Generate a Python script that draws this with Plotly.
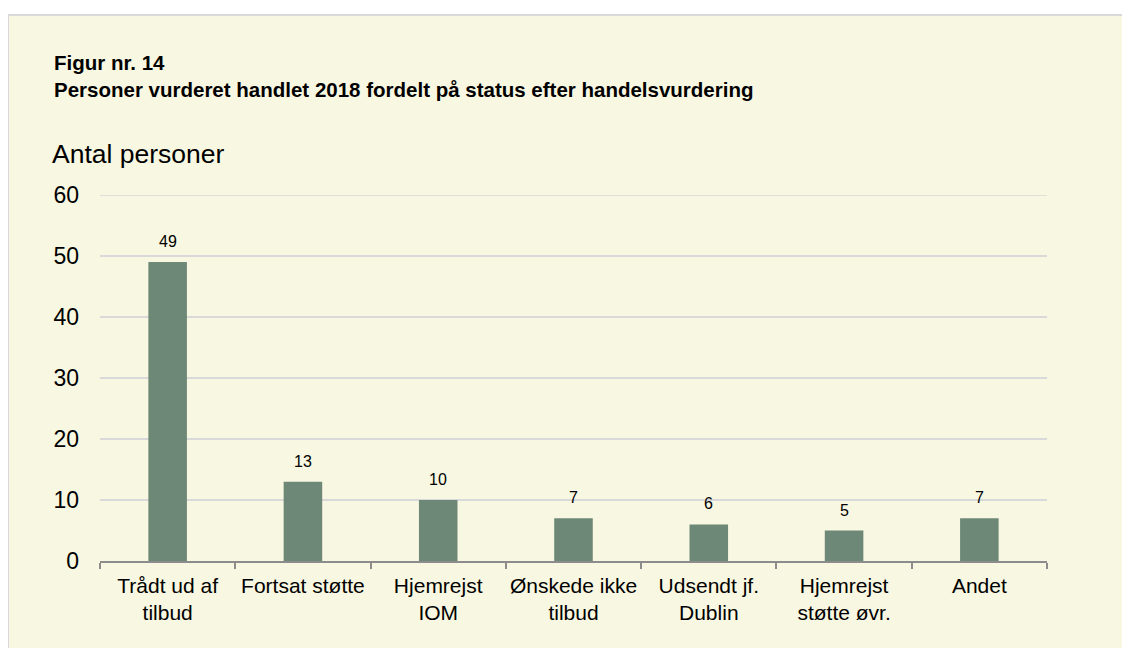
import plotly.graph_objects as go

categories = ["Trådt ud af<br>tilbud", "Fortsat støtte", "Hjemrejst<br>IOM", "Ønskede ikke<br>tilbud",
              "Udsendt jf.<br>Dublin", "Hjemrejst<br>støtte øvr.", "Andet"]
values = [49, 13, 10, 7, 6, 5, 7]
y_ticks = [0, 10, 20, 30, 40, 50, 60]

OFF = 8  # page body margin
W, H = 1122, 640
L, R, T, B = 92, 83, 187, 87
pw, ph = W - L - R, H - T - B

def px_x(p):
    return (p - OFF - L) / pw

def px_y(p):
    return (H - B - (p - OFF)) / ph

FONT = "Liberation Sans, Arial, sans-serif"
fig = go.Figure()
fig.add_trace(go.Bar(x=categories, y=values, marker=dict(color="#6E8877", line=dict(width=0)),
                     width=0.285, hoverinfo="skip"))

# background panel
fig.add_shape(type="rect", xref="paper", yref="paper",
              x0=px_x(8), x1=px_x(1160), y0=px_y(15), y1=px_y(700),
              fillcolor="#F8F7E1", line=dict(color="#D9D9D9", width=2), layer="below")

# top gridline (plotly skips the gridline on the plot edge)
fig.add_shape(type="line", xref="paper", yref="y", x0=0, x1=1, y0=y_ticks[-1], y1=y_ticks[-1],
              line=dict(color="#D9D9D9", width=1.5), layer="below")

for c, v in zip(categories, values):
    fig.add_annotation(x=c, y=v, text=str(v), showarrow=False, yanchor="bottom", yshift=10,
                       font=dict(family=FONT, size=16, color="#000000"))

fig.add_annotation(xref="paper", yref="paper", x=px_x(52), y=px_y(76), xanchor="left", yanchor="middle",
                   align="left",
                   text="<b>Figur nr. 14</b><br><b>Personer vurderet handlet 2018 fordelt på status efter handelsvurdering</b>",
                   showarrow=False, font=dict(family=FONT, size=20.5, color="#000"))
fig.add_annotation(xref="paper", yref="paper", x=px_x(50), y=px_y(154), xanchor="left", yanchor="middle",
                   text="Antal personer", showarrow=False, font=dict(family=FONT, size=26.5, color="#000"))

fig.update_layout(
    width=W, height=H, margin=dict(l=L, r=R, t=T, b=B, autoexpand=False),
    paper_bgcolor="#FFFFFF", plot_bgcolor="rgba(0,0,0,0)",
    showlegend=False, font=dict(family=FONT, color="#000"),
    xaxis=dict(showline=True, linecolor="#8C8C8C", linewidth=1.5, ticks="outside", tickcolor="#8C8C8C",
               ticklen=6, tickwidth=1.5, tickson="boundaries", tickfont=dict(size=21, family=FONT, color="#000"),
               showgrid=False, ticklabelstandoff=5, tickangle=0, automargin=False),
    yaxis=dict(range=[0, 60], tickvals=y_ticks, showgrid=True, gridcolor="#D9D9D9", gridwidth=1.5,
               zeroline=False, showline=False, ticks="", tickfont=dict(size=23, family=FONT, color="#000"),
               ticklabelstandoff=20, automargin=False),
)

fig.write_html("out.html")
